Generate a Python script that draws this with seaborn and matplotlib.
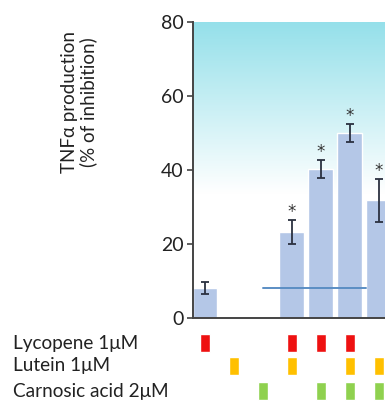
import numpy as np
import matplotlib
matplotlib.use("Agg")
import matplotlib.pyplot as plt
import seaborn as sns
from matplotlib.colors import LinearSegmentedColormap

# data
positions = [1, 2, 3, 4, 5, 6, 7]
inhibition = [8.1, 0, 0, 23.2, 40.2, 50.0, 31.8]
errors = [1.5, 0, 0, 3.2, 2.4, 2.4, 5.8]
significant = [False, False, False, True, True, True, True]
additive_level = 8.0

treatments = ["Lycopene 1\u03bcM", "Lutein 1\u03bcM", "Carnosic acid 2\u03bcM"]
treatment_colors = ["#ee1111", "#ffc000", "#8fd14f"]
# rows: lycopene, lutein, carnosic acid ; columns: positions 1..7
present = [
    [1, 0, 0, 1, 1, 1, 0],
    [0, 1, 0, 1, 0, 1, 1],
    [0, 0, 1, 0, 1, 1, 1],
]

sns.set_style("ticks")
plt.rcParams["font.family"] = ["Lato", "DejaVu Sans"]

fig = plt.figure(figsize=(3.85, 4.01), dpi=100)
ax = fig.add_axes([193 / 385, 83 / 401, 192 / 385, 296 / 401])
x0, x1 = 0.586, 7.21
ax.set_xlim(x0, x1)
ax.set_ylim(0, 80)

# background gradient, cyan at top fading to white
cmap = LinearSegmentedColormap.from_list(
    "bg", [(0, "#ffffff"), (0.42, "#ffffff"), (1, "#95e0ea")])
grad = np.linspace(0, 1, 256).reshape(-1, 1)
ax.imshow(grad, extent=[x0, x1, 0, 80], origin="lower", aspect="auto",
          cmap=cmap, zorder=0)

sel = [i for i, v in enumerate(inhibition) if v > 0]
bx = [positions[i] for i in sel]
by = [inhibition[i] for i in sel]
be = [errors[i] for i in sel]
ax.bar(bx, by, width=0.86, color="#b4c7e7", zorder=2)
ax.errorbar(bx, by, yerr=be, fmt="none", ecolor="#2b3140", elinewidth=1.3,
            capsize=3, capthick=1.3, zorder=3)
for p, v, e, s in zip(positions, inhibition, errors, significant):
    if s:
        ax.text(p, v + e + 2.2, "*", ha="center", va="center", fontsize=12,
                color="#333333", family="DejaVu Sans", zorder=4)
ax.plot([3, 6.55], [additive_level, additive_level], color="#5b8ec4",
        lw=1.4, zorder=3)

ax.set_yticks([0, 20, 40, 60, 80])
ax.set_xticks([])
ax.tick_params(axis="y", labelsize=14, length=4, width=1.2, color="#444444",
               labelcolor="#222222", pad=3)
for side in ["top", "right"]:
    ax.spines[side].set_visible(False)
for side in ["left", "bottom"]:
    ax.spines[side].set_color("#444444")
    ax.spines[side].set_linewidth(1.4)
fig.text(79 / 385, 1 - 102 / 401, "TNF\u03b1 production\n(% of inhibition)",
         fontsize=13.5, color="#222222", rotation=90, ha="center",
         va="center", linespacing=1.1, multialignment="center")

# treatment matrix below the axis
ax2 = fig.add_axes([193 / 385, 0, 192 / 385, 83 / 401])
ax2.set_xlim(x0, x1)
ax2.set_ylim(83, 0)
ax2.axis("off")
row_y = [343, 366, 391]
for r, (name, col) in enumerate(zip(treatments, treatment_colors)):
    xs = [positions[i] for i, f in enumerate(present[r]) if f]
    ax2.bar(xs, 18, width=0.35, bottom=row_y[r] - 318 - 9, color=col)
    fig.text(13 / 385, 1 - row_y[r] / 401, name, fontsize=13.7,
             color="#222222", va="center", ha="left")

fig.savefig("out.png", dpi=100)
